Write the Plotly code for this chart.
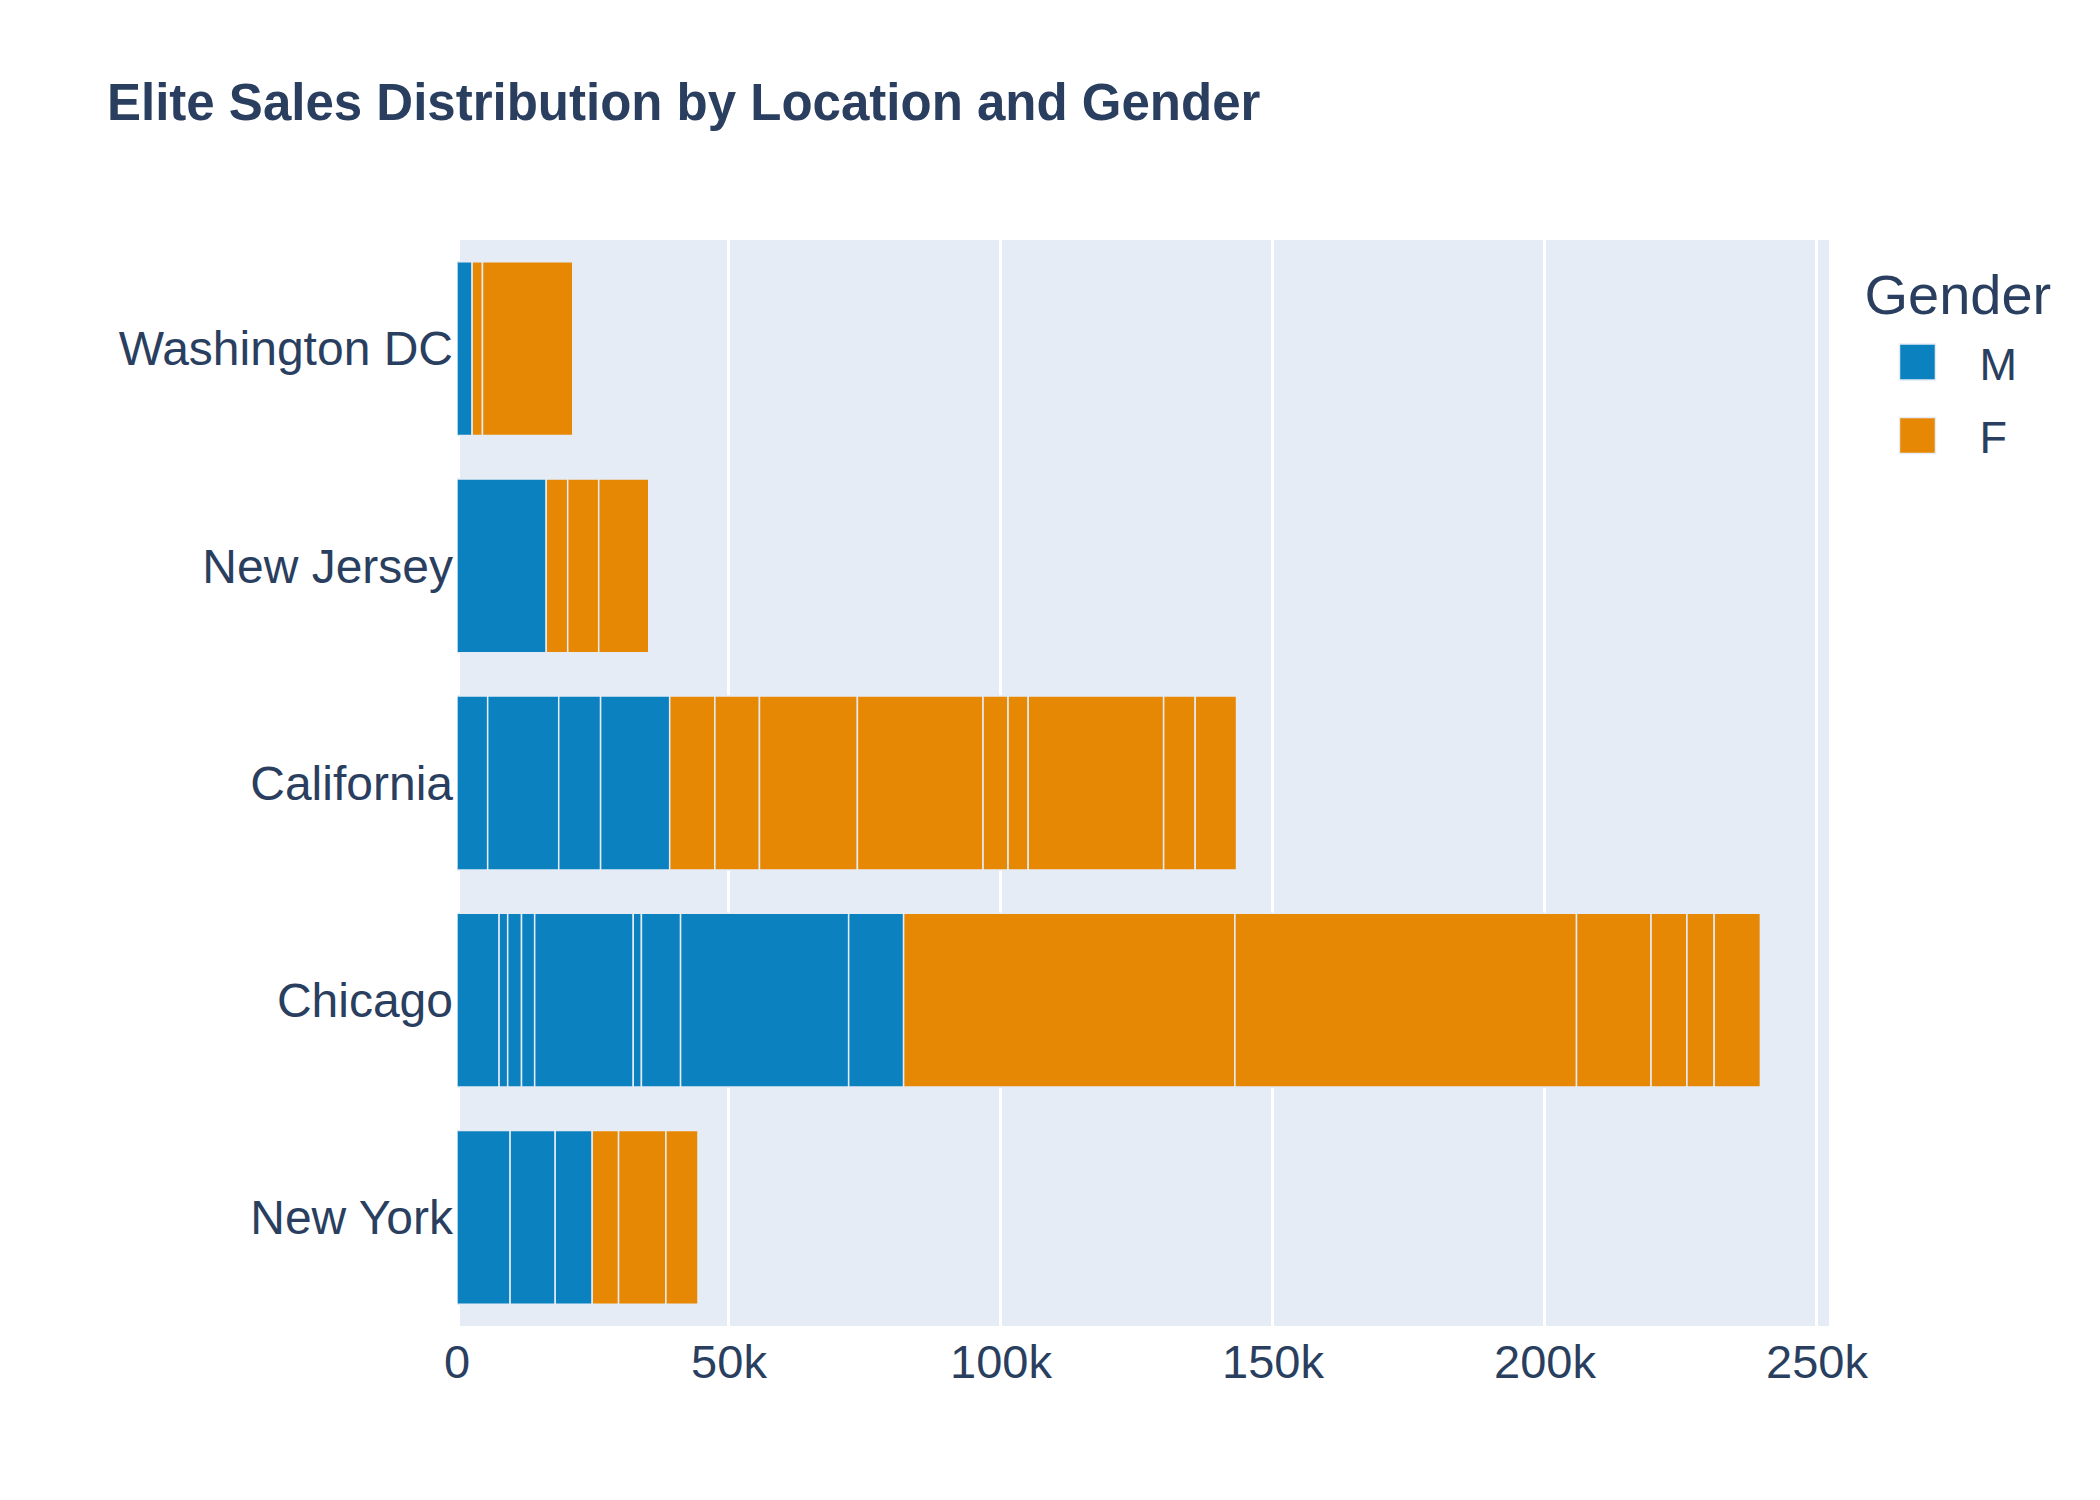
import plotly.graph_objects as go

# Long-format data: one row per sales record (values in dollars)
m_locations = ["New York"] * 3 + ["Chicago"] * 9 + ["California"] * 4 + ["New Jersey"] + ["Washington DC"]
m_sales = [9760, 8290, 6800,
           7740, 1580, 2540, 2420, 18120, 1500, 7200, 30900, 10100,
           5640, 13060, 7700, 12700,
           16400,
           2780]

f_locations = ["New York"] * 3 + ["Chicago"] * 6 + ["California"] * 9 + ["New Jersey"] * 3 + ["Washington DC"] * 2
f_sales = [4850, 8700, 5900,
           60900, 62800, 13700, 6600, 5000, 8500,
           8300, 8200, 18000, 23100, 4600, 3700, 24900, 5800, 7600,
           3950, 5700, 9200,
           1900, 16600]

category_order = ["New York", "Chicago", "California", "New Jersey", "Washington DC"]
colors = {"M": "#0B82BF", "F": "#E78804"}

fig = go.Figure()
fig.add_trace(go.Bar(y=m_locations, x=m_sales, orientation="h", name="M", legendgroup="M",
                     marker=dict(color=colors["M"], line=dict(color="#E5ECF6", width=1.5))))
fig.add_trace(go.Bar(y=f_locations, x=f_sales, orientation="h", name="F", legendgroup="F",
                     marker=dict(color=colors["F"], line=dict(color="#E5ECF6", width=1.5))))

fig.update_layout(
    template="plotly",
    width=2100, height=1500,
    barmode="relative",
    font=dict(family="Liberation Sans, Arial", size=46, color="#2a3f5f"),
    title=dict(text="<b>Elite Sales Distribution by Location and Gender</b>",
               font=dict(size=51, color="#2a3f5f"),
               x=99 / 2100, xanchor="left", y=1 - 94 / 1500, yanchor="middle"),
    margin=dict(l=449, r=279, t=232, b=182),
    legend=dict(title=dict(text="Gender", font=dict(size=56)), font=dict(size=45),
                traceorder="grouped", tracegroupgap=12, itemwidth=107,
                x=1.0244, xanchor="left", y=0.9876, yanchor="top"),
    xaxis=dict(gridwidth=3, zerolinewidth=6, tickfont=dict(size=47), automargin=False,
               ticklabelstandoff=4),
    yaxis=dict(categoryorder="array", categoryarray=category_order,
               showgrid=False, tickfont=dict(size=48), automargin=False,
               ticklabelstandoff=3),
)

# The reference legend was drawn at 3x scale: enlarge the legend swatches and
# put them (and the legend title) where the 3x layout had them.
post = """
(function(){
  var gd = document.getElementById('{plot_id}');
  function fixLegend(){
    gd.querySelectorAll('.legend .traces').forEach(function(tr){
      var txt = tr.querySelector('.legendtext');
      if (!txt) return;
      tr.querySelectorAll('.legendpoints path').forEach(function(p){
        p.removeAttribute('transform');
        var pb = p.getBoundingClientRect();
        var tb = txt.getBoundingClientRect();
        var cx = pb.left + pb.width / 2;
        var dx = (tb.left - 62) - cx;
        p.setAttribute('transform', 'translate(' + dx + ',0) scale(3)');
        p.style.strokeWidth = '0.5px';
      });
    });
    var t = gd.querySelector('.legend .legendtitletext');
    if (t) { t.setAttribute('transform', 'translate(0,-12)'); }
  }
  fixLegend();
  setTimeout(fixLegend, 50);
  setTimeout(fixLegend, 300);
  if (gd.on) { gd.on('plotly_afterplot', function(){ setTimeout(fixLegend, 0); }); }
})();
"""

fig.write_html("out.html", post_script=post)
